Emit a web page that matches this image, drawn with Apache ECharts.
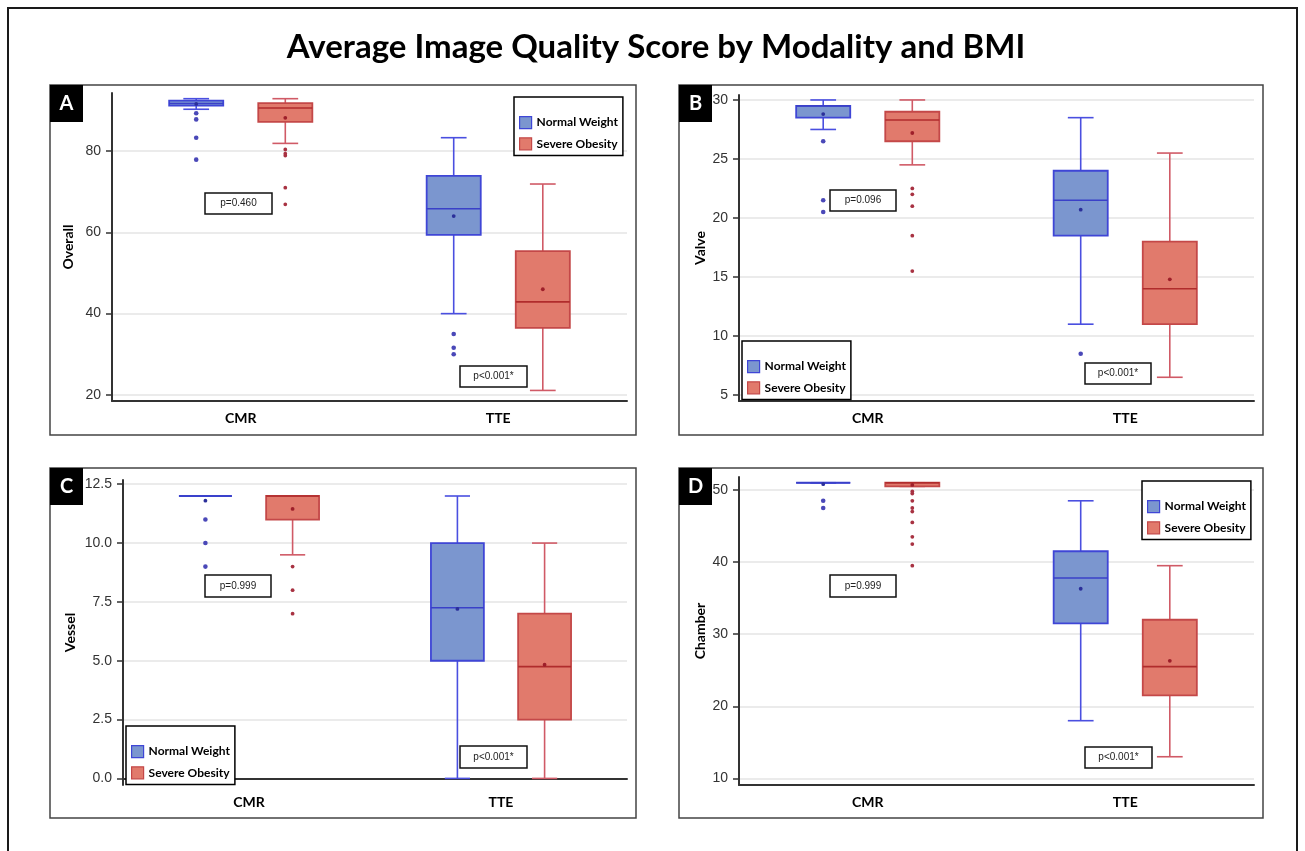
<!DOCTYPE html>
<html><head><meta charset="utf-8">
<script src="https://cdn.jsdelivr.net/npm/echarts@6/dist/echarts.min.js"></script>
<style>html,body{margin:0;padding:0;background:#fff}#chart{width:1305px;height:851px}</style>
</head><body><div id="chart"></div>
<script>
// ---------------- DATA ----------------
const categories = ['CMR', 'TTE'];
const groupNames = ['Normal Weight', 'Severe Obesity'];
const yAxisNames = ['Overall', 'Valve', 'Vessel', 'Chamber'];
const panelLetters = ['A', 'B', 'C', 'D'];

// box values per category: [min whisker, Q1, median, Q3, max whisker]
const overallNormalBox = [[90.3, 91.2, 91.7, 92.4, 92.9], [40.0, 59.4, 65.8, 73.9, 83.3]];
const overallSevereBox = [[81.9, 87.2, 90.6, 91.8, 92.9], [21.1, 36.5, 42.9, 55.4, 71.9]];
const overallNormalMean = [91.6, 64.0];
const overallSevereMean = [88.2, 46.0];
const overallNormalOutliers = [[89.3, 87.8, 83.3, 77.9], [35.0, 31.6, 30.0]];
const overallSevereOutliers = [[80.4, 79.4, 78.9, 71.0, 66.9], []];
const overallTicks = [20, 40, 60, 80];

const valveNormalBox = [[27.5, 28.5, 29.5, 29.5, 30.0], [11.0, 18.5, 21.5, 24.0, 28.5]];
const valveSevereBox = [[24.5, 26.5, 28.3, 29.0, 30.0], [6.5, 11.0, 14.0, 18.0, 25.5]];
const valveNormalMean = [28.8, 20.7];
const valveSevereMean = [27.2, 14.8];
const valveNormalOutliers = [[26.5, 21.5, 20.5], [8.5]];
const valveSevereOutliers = [[22.5, 22.0, 21.0, 18.5, 15.5], []];
const valveTicks = [5, 10, 15, 20, 25, 30];

const vesselNormalBox = [[12.0, 12.0, 12.0, 12.0, 12.0], [0.0, 5.0, 7.25, 10.0, 12.0]];
const vesselSevereBox = [[9.5, 11.0, 12.0, 12.0, 12.0], [0.0, 2.5, 4.75, 7.0, 10.0]];
const vesselNormalMean = [11.8, 7.2];
const vesselSevereMean = [11.45, 4.83];
const vesselNormalOutliers = [[11.0, 10.0, 9.0], []];
const vesselSevereOutliers = [[9.0, 8.0, 7.0], []];
const vesselTicks = [0, 2.5, 5, 7.5, 10, 12.5];

const chamberNormalBox = [[51.0, 51.0, 51.0, 51.0, 51.0], [18.0, 31.5, 37.8, 41.5, 48.5]];
const chamberSevereBox = [[50.5, 50.5, 51.0, 51.0, 51.0], [13.0, 21.5, 25.5, 32.0, 39.5]];
const chamberNormalMean = [50.8, 36.3];
const chamberSevereMean = [50.7, 26.3];
const chamberNormalOutliers = [[48.5, 47.5], []];
const chamberSevereOutliers = [[49.8, 49.5, 48.5, 47.5, 47.0, 45.5, 43.5, 42.5, 39.5], []];
const chamberTicks = [10, 20, 30, 40, 50];

const pValuesCMR = ['p=0.460', 'p=0.096', 'p=0.999', 'p=0.999'];
const pValuesTTE = ['p<0.001*', 'p<0.001*', 'p<0.001*', 'p<0.001*'];

const titleText = 'Average Image Quality Score by Modality and BMI';

// ---------------- LAYOUT / STYLE ----------------
const panelData = [
  {box: [overallNormalBox, overallSevereBox], mean: [overallNormalMean, overallSevereMean], out: [overallNormalOutliers, overallSevereOutliers], ticks: overallTicks},
  {box: [valveNormalBox, valveSevereBox], mean: [valveNormalMean, valveSevereMean], out: [valveNormalOutliers, valveSevereOutliers], ticks: valveTicks},
  {box: [vesselNormalBox, vesselSevereBox], mean: [vesselNormalMean, vesselSevereMean], out: [vesselNormalOutliers, vesselSevereOutliers], ticks: vesselTicks},
  {box: [chamberNormalBox, chamberSevereBox], mean: [chamberNormalMean, chamberSevereMean], out: [chamberNormalOutliers, chamberSevereOutliers], ticks: chamberTicks}
];
const panelLayout = [
  {frame: [50, 85, 586, 350], grid: {left: 112, top: 93, width: 515, height: 308}, yMin: 18.5, yMax: 94.3, nameGap: 37, dec: 0,
   legend: {left: 514, top: 97}, pCMR: [205, 193, 67, 21], pTTE: [460, 366, 67, 21]},
  {frame: [679, 85, 584, 350], grid: {left: 739, top: 95, width: 515, height: 306}, yMin: 4.49, yMax: 30.42, nameGap: 32, dec: 0,
   legend: {left: 742, top: 341}, pCMR: [830, 190, 66, 21], pTTE: [1085, 363, 66, 21]},
  {frame: [50, 468, 586, 350], grid: {left: 123, top: 480, width: 504, height: 305}, yMin: -0.28, yMax: 12.68, nameGap: 46, dec: 1,
   legend: {left: 126, top: 726}, pCMR: [205, 575, 66, 22], pTTE: [460, 746, 67, 22]},
  {frame: [679, 468, 584, 350], grid: {left: 739, top: 477, width: 515, height: 308}, yMin: 9.08, yMax: 51.8, nameGap: 32, dec: 0,
   legend: {left: 1142, top: 481}, pCMR: [830, 575, 66, 22], pTTE: [1085, 747, 67, 21]}
];

const GROUP_OFFSET = 0.173, BOX_W = 0.21, CAP_W = 0.1;
const styles = [
  {fill: '#7b96cf', border: '#3f46d6', whisker: '#4a4fe0', median: '#3a40c8', mean: '#2b2f9a', outlier: '#4a48b8', r: 2.3},
  {fill: '#e17a6c', border: '#c44848', whisker: '#d05a66', median: '#b02c2c', mean: '#9e1f2a', outlier: '#a83242', r: 1.9}
];
const LABEL_FONT = '"Liberation Sans", Arial, sans-serif';
const BOLD_FONT = 'Lato, "Open Sans", sans-serif';

function boxRenderer(side, st) {
  return function (params, api) {
    const k = api.value(0);
    const band = api.size([1, 0])[0];
    const cx = api.coord([k, api.value(3)])[0] + side * band * GROUP_OFFSET;
    const y = i => api.coord([k, api.value(i)])[1];
    const yMin = y(1), yQ1 = y(2), yMed = y(3), yQ3 = y(4), yMax = y(5), yMean = y(6);
    const bw = band * BOX_W, cw = band * CAP_W;
    const ls = {stroke: st.whisker, lineWidth: 1.6};
    return {type: 'group', children: [
      {type: 'line', shape: {x1: cx, y1: yQ3, x2: cx, y2: yMax}, style: ls},
      {type: 'line', shape: {x1: cx, y1: yQ1, x2: cx, y2: yMin}, style: ls},
      {type: 'line', shape: {x1: cx - cw / 2, y1: yMax, x2: cx + cw / 2, y2: yMax}, style: ls},
      {type: 'line', shape: {x1: cx - cw / 2, y1: yMin, x2: cx + cw / 2, y2: yMin}, style: ls},
      {type: 'rect', shape: {x: cx - bw / 2, y: yQ3, width: bw, height: yQ1 - yQ3}, style: {fill: st.fill, stroke: st.border, lineWidth: 1.8}},
      {type: 'line', shape: {x1: cx - bw / 2, y1: yMed, x2: cx + bw / 2, y2: yMed}, style: {stroke: st.median, lineWidth: 1.6}},
      {type: 'circle', shape: {cx: cx, cy: yMean, r: 1.9}, style: {fill: st.mean}}
    ]};
  };
}
function pointRenderer(side, st) {
  return function (params, api) {
    const k = api.value(0);
    const band = api.size([1, 0])[0];
    const p = api.coord([k, api.value(1)]);
    return {type: 'circle', shape: {cx: p[0] + side * band * GROUP_OFFSET, cy: p[1], r: st.r}, style: {fill: st.outlier}};
  };
}

const grids = [], xAxes = [], yAxes = [], series = [], legends = [], graphics = [];

graphics.push({type: 'rect', shape: {x: 8, y: 8, width: 1289, height: 870}, style: {fill: 'none', stroke: '#1a1a1a', lineWidth: 2}, silent: true});
graphics.push({type: 'text', x: 656, y: 47, style: {text: titleText, font: 'bold 33px ' + BOLD_FONT, fill: '#000', align: 'center', verticalAlign: 'middle'}});

function pBox(b, txt) {
  return {type: 'group', x: b[0], y: b[1], children: [
    {type: 'rect', shape: {x: 0, y: 0, width: b[2], height: b[3]}, style: {fill: '#fff', stroke: '#111', lineWidth: 1.5}},
    {type: 'text', x: b[2] / 2, y: b[3] / 2, style: {text: txt, font: '10px ' + LABEL_FONT, fill: '#222', align: 'center', verticalAlign: 'middle'}}
  ]};
}

panelData.forEach((pd, i) => {
  const L = panelLayout[i];
  graphics.push({type: 'rect', shape: {x: L.frame[0], y: L.frame[1], width: L.frame[2], height: L.frame[3]}, style: {fill: 'none', stroke: '#444', lineWidth: 1.5}, silent: true});
  graphics.push({type: 'group', x: L.frame[0], y: L.frame[1], children: [
    {type: 'rect', shape: {x: 0, y: 0, width: 33, height: 37}, style: {fill: '#000'}},
    {type: 'text', x: 16.5, y: 19, style: {text: panelLetters[i], font: 'bold 20px ' + BOLD_FONT, fill: '#fff', align: 'center', verticalAlign: 'middle'}}
  ]});
  graphics.push(pBox(L.pCMR, pValuesCMR[i]));
  graphics.push(pBox(L.pTTE, pValuesTTE[i]));

  grids.push(Object.assign({containLabel: false}, L.grid));
  xAxes.push({
    type: 'category', gridIndex: i, data: categories, boundaryGap: true,
    axisLine: {lineStyle: {color: '#333', width: 2}}, axisTick: {show: false},
    axisLabel: {fontFamily: BOLD_FONT, fontWeight: 'bold', fontSize: 14, color: '#000', margin: 10},
    splitLine: {show: false}
  });
  yAxes.push({
    type: 'value', gridIndex: i, min: L.yMin, max: L.yMax,
    name: yAxisNames[i], nameLocation: 'middle', nameGap: L.nameGap, nameRotate: 90,
    nameTextStyle: {fontFamily: BOLD_FONT, fontWeight: 'bold', fontSize: 14, color: '#000'},
    axisLine: {show: true, lineStyle: {color: '#333', width: 2}},
    axisTick: {show: true, length: 6, lineStyle: {color: '#333', width: 1.5}, customValues: pd.ticks},
    axisLabel: {fontFamily: LABEL_FONT, fontSize: 14, color: '#333', margin: 11, customValues: pd.ticks,
                formatter: v => Number(v).toFixed(L.dec)},
    splitLine: {show: true, lineStyle: {color: '#e4e4e4', width: 1.5}}
  });
  [0, 1].forEach(g => {
    const side = g === 0 ? -1 : 1;
    series.push({
      type: 'custom', name: groupNames[g], xAxisIndex: i, yAxisIndex: i,
      renderItem: boxRenderer(side, styles[g]),
      encode: {x: 0, y: [1, 2, 3, 4, 5, 6]},
      data: categories.map((c, k) => [k].concat(pd.box[g][k], [pd.mean[g][k]])),
      z: 3, silent: true
    });
    const pts = [];
    categories.forEach((c, k) => pd.out[g][k].forEach(v => pts.push([k, v])));
    series.push({
      type: 'custom', name: groupNames[g], xAxisIndex: i, yAxisIndex: i,
      renderItem: pointRenderer(side, styles[g]),
      encode: {x: 0, y: 1}, data: pts, z: 4, silent: true
    });
  });
  legends.push({
    orient: 'vertical', left: L.legend.left, top: L.legend.top,
    padding: [19, 5, 5, 5], itemGap: 8, itemWidth: 12, itemHeight: 12,
    borderColor: '#000', borderWidth: 1.5, backgroundColor: '#fff', selectedMode: false,
    textStyle: {fontFamily: BOLD_FONT, fontWeight: 'bold', fontSize: 12, color: '#000'},
    icon: 'rect',
    data: groupNames.map((n, g) => ({name: n, itemStyle: {color: styles[g].fill, borderColor: styles[g].border, borderWidth: 1.2}}))
  });
});

const chart = echarts.init(document.getElementById('chart'), null, {renderer: 'canvas'});
chart.setOption({
  animation: false,
  backgroundColor: '#fff',
  grid: grids, xAxis: xAxes, yAxis: yAxes, series: series, legend: legends,
  graphic: {elements: graphics}
});
</script></body></html>
